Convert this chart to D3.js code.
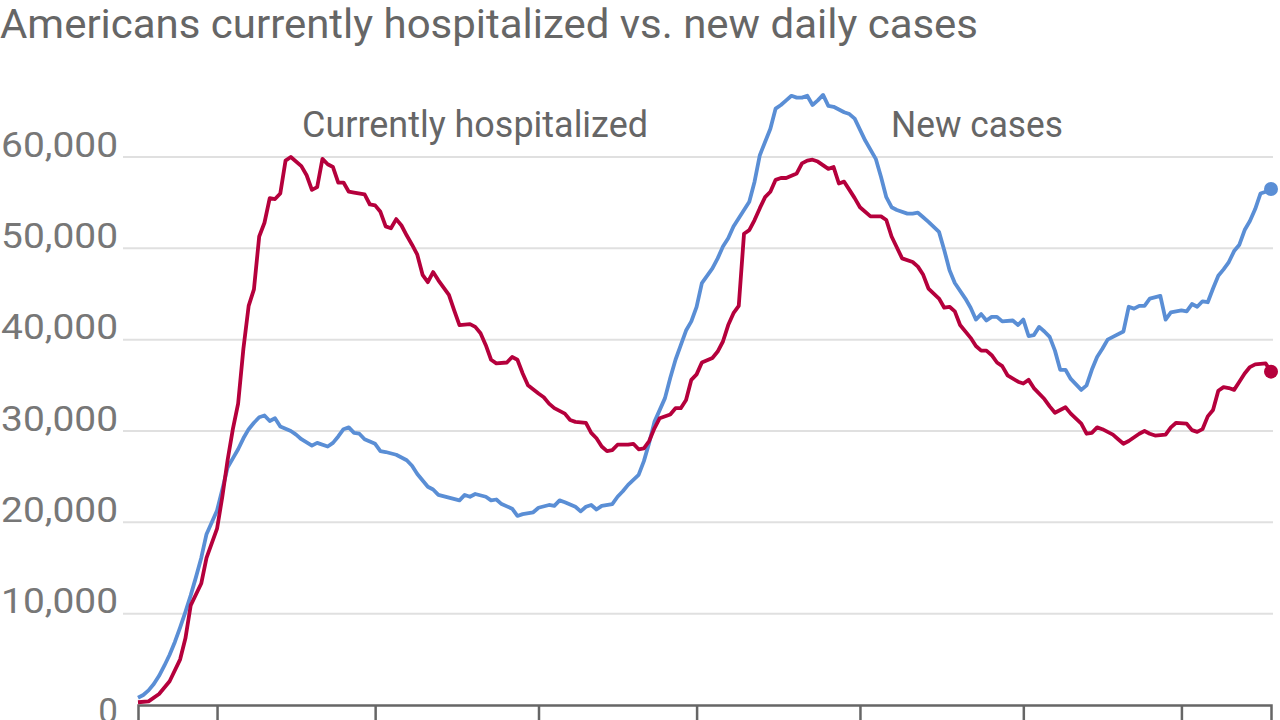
<!DOCTYPE html>
<html>
<head>
<meta charset="utf-8">
<script src="https://cdn.jsdelivr.net/npm/d3@7"></script>
<style>
  html, body { margin: 0; padding: 0; background: #fff; overflow: hidden; }
  svg { display: block; font-family: "Roboto", "Liberation Sans", sans-serif; }
</style>
</head>
<body>
<svg id="chart" width="1280" height="720"></svg>
<script>
const title = "Americans currently hospitalized vs. new daily cases";
const seriesNames = ["Currently hospitalized", "New cases"];
const yTicks = [0, 10000, 20000, 30000, 40000, 50000, 60000];
const monthTicks = ["2020-04-01","2020-05-01","2020-06-01","2020-07-01","2020-08-01","2020-09-01","2020-10-01"];

const hospitalized = [
["2020-03-17",300],["2020-03-19",400],["2020-03-21",1200],["2020-03-23",2600],["2020-03-25",5000],
["2020-03-26",7300],["2020-03-27",10900],["2020-03-29",13300],["2020-03-30",16100],["2020-04-01",19300],
["2020-04-02",22800],["2020-04-03",26800],["2020-04-04",30200],["2020-04-05",33000],["2020-04-06",39000],
["2020-04-07",43700],["2020-04-08",45500],["2020-04-09",51300],["2020-04-10",52800],["2020-04-11",55500],
["2020-04-12",55400],["2020-04-13",56000],["2020-04-14",59600],["2020-04-15",60000],["2020-04-17",59000],
["2020-04-18",58000],["2020-04-19",56400],["2020-04-20",56700],["2020-04-21",59800],["2020-04-22",59200],
["2020-04-23",58900],["2020-04-24",57200],["2020-04-25",57200],["2020-04-26",56200],["2020-04-27",56100],
["2020-04-29",55900],["2020-04-30",54800],["2020-05-01",54700],["2020-05-02",54000],["2020-05-03",52400],
["2020-05-04",52200],["2020-05-05",53200],["2020-05-06",52500],["2020-05-07",51400],["2020-05-08",50400],
["2020-05-09",49300],["2020-05-10",47100],["2020-05-11",46300],["2020-05-12",47400],["2020-05-13",46500],
["2020-05-15",44900],["2020-05-16",43200],["2020-05-17",41600],["2020-05-19",41700],["2020-05-20",41400],
["2020-05-21",40700],["2020-05-22",39400],["2020-05-23",37800],["2020-05-24",37400],["2020-05-26",37500],
["2020-05-27",38100],["2020-05-28",37800],["2020-05-29",36300],["2020-05-30",35000],["2020-06-01",34100],
["2020-06-02",33700],["2020-06-03",33000],["2020-06-04",32500],["2020-06-06",31900],["2020-06-07",31200],
["2020-06-08",31000],["2020-06-10",30900],["2020-06-11",29800],["2020-06-12",29200],["2020-06-13",28300],
["2020-06-14",27800],["2020-06-15",27900],["2020-06-16",28500],["2020-06-18",28500],["2020-06-19",28600],
["2020-06-20",28000],["2020-06-21",28100],["2020-06-22",28900],["2020-06-23",30300],["2020-06-24",31400],
["2020-06-26",31800],["2020-06-27",32500],["2020-06-28",32500],["2020-06-29",33400],["2020-06-30",35600],
["2020-07-01",36200],["2020-07-02",37500],["2020-07-04",38000],["2020-07-05",38700],["2020-07-06",39800],
["2020-07-07",41600],["2020-07-08",42900],["2020-07-09",43700],["2020-07-10",51600],["2020-07-11",52000],
["2020-07-12",53100],["2020-07-13",54400],["2020-07-14",55600],["2020-07-15",56200],["2020-07-16",57500],
["2020-07-17",57700],["2020-07-18",57700],["2020-07-20",58200],["2020-07-21",59300],["2020-07-22",59600],
["2020-07-23",59700],["2020-07-24",59500],["2020-07-26",58700],["2020-07-27",58900],["2020-07-28",57100],
["2020-07-29",57300],["2020-07-30",56400],["2020-07-31",55500],["2020-08-01",54500],["2020-08-03",53500],
["2020-08-05",53500],["2020-08-06",53100],["2020-08-07",51300],["2020-08-09",48900],["2020-08-11",48500],
["2020-08-12",48000],["2020-08-13",47100],["2020-08-14",45600],["2020-08-16",44500],["2020-08-17",43500],
["2020-08-18",43600],["2020-08-19",43100],["2020-08-20",41600],["2020-08-22",40200],["2020-08-23",39300],
["2020-08-24",38800],["2020-08-25",38800],["2020-08-26",38300],["2020-08-27",37500],["2020-08-28",37100],
["2020-08-29",36100],["2020-08-31",35400],["2020-09-01",35200],["2020-09-02",35600],["2020-09-03",34700],
["2020-09-05",33500],["2020-09-06",32700],["2020-09-07",32000],["2020-09-08",32300],["2020-09-09",32600],
["2020-09-10",31900],["2020-09-12",30800],["2020-09-13",29700],["2020-09-14",29800],["2020-09-15",30400],
["2020-09-16",30200],["2020-09-18",29600],["2020-09-19",29100],["2020-09-20",28600],["2020-09-21",28900],
["2020-09-23",29700],["2020-09-24",30000],["2020-09-25",29700],["2020-09-26",29500],["2020-09-28",29600],
["2020-09-29",30400],["2020-09-30",30900],["2020-10-02",30800],["2020-10-03",30100],["2020-10-04",29900],
["2020-10-05",30200],["2020-10-06",31600],["2020-10-07",32300],["2020-10-08",34400],["2020-10-09",34800],
["2020-10-10",34700],["2020-10-11",34500],["2020-10-12",35400],["2020-10-13",36300],["2020-10-14",37000],
["2020-10-15",37300],["2020-10-17",37400],["2020-10-18",36500]
];

const newCases = [
["2020-03-17",800],["2020-03-18",1100],["2020-03-19",1600],["2020-03-20",2300],["2020-03-21",3200],
["2020-03-22",4300],["2020-03-23",5500],["2020-03-24",6900],["2020-03-25",8500],["2020-03-26",10200],
["2020-03-27",12000],["2020-03-28",14000],["2020-03-29",16100],["2020-03-30",18700],
["2020-04-01",21300],["2020-04-02",23600],["2020-04-03",26000],["2020-04-04",27000],["2020-04-05",28000],
["2020-04-06",29200],["2020-04-07",30200],["2020-04-08",30900],["2020-04-09",31500],["2020-04-10",31700],
["2020-04-11",31100],["2020-04-12",31400],["2020-04-13",30500],["2020-04-15",30000],["2020-04-16",29600],
["2020-04-17",29100],["2020-04-19",28400],["2020-04-20",28700],["2020-04-22",28300],["2020-04-23",28700],
["2020-04-24",29400],["2020-04-25",30200],["2020-04-26",30400],["2020-04-27",29800],["2020-04-28",29700],
["2020-04-29",29100],["2020-05-01",28600],["2020-05-02",27800],["2020-05-03",27700],["2020-05-05",27400],
["2020-05-07",26800],["2020-05-08",26200],["2020-05-09",25300],["2020-05-11",23900],["2020-05-12",23600],
["2020-05-13",23000],["2020-05-15",22700],["2020-05-17",22400],["2020-05-18",23000],["2020-05-19",22800],
["2020-05-20",23100],["2020-05-22",22800],["2020-05-23",22400],["2020-05-24",22500],["2020-05-25",22000],
["2020-05-27",21500],["2020-05-28",20700],["2020-05-29",20900],["2020-05-31",21100],["2020-06-01",21600],
["2020-06-03",21900],["2020-06-04",21800],["2020-06-05",22400],["2020-06-06",22200],["2020-06-08",21700],
["2020-06-09",21200],["2020-06-10",21700],["2020-06-11",21900],["2020-06-12",21400],["2020-06-13",21800],
["2020-06-15",22000],["2020-06-16",22800],["2020-06-17",23400],["2020-06-18",24100],["2020-06-20",25200],
["2020-06-21",26700],["2020-06-22",28700],["2020-06-23",31000],["2020-06-25",33600],["2020-06-26",35800],
["2020-06-27",37800],["2020-06-28",39400],["2020-06-29",41000],["2020-06-30",42000],["2020-07-01",43600],
["2020-07-02",46200],["2020-07-04",47800],["2020-07-05",48900],["2020-07-06",50200],["2020-07-07",51100],
["2020-07-08",52400],["2020-07-09",53300],["2020-07-11",55100],["2020-07-12",57300],["2020-07-13",60200],
["2020-07-15",63100],["2020-07-16",65300],["2020-07-17",65700],["2020-07-18",66200],["2020-07-19",66700],
["2020-07-20",66500],["2020-07-21",66500],["2020-07-22",66700],["2020-07-23",65700],["2020-07-24",66200],
["2020-07-25",66800],["2020-07-26",65600],["2020-07-27",65500],["2020-07-29",64900],["2020-07-30",64700],
["2020-07-31",64200],["2020-08-01",63000],["2020-08-02",61800],["2020-08-04",59800],["2020-08-05",57800],
["2020-08-06",55600],["2020-08-07",54500],["2020-08-08",54200],["2020-08-10",53800],["2020-08-11",53800],
["2020-08-12",53900],["2020-08-13",53400],["2020-08-14",52900],["2020-08-16",51800],["2020-08-17",49800],
["2020-08-18",47600],["2020-08-19",46200],["2020-08-21",44500],["2020-08-22",43500],["2020-08-23",42200],
["2020-08-24",42800],["2020-08-25",42100],["2020-08-26",42500],["2020-08-27",42500],["2020-08-28",42000],
["2020-08-30",42100],["2020-08-31",41600],["2020-09-01",42200],["2020-09-02",40400],["2020-09-03",40500],
["2020-09-04",41400],["2020-09-05",40900],["2020-09-06",40300],["2020-09-07",38800],["2020-09-08",36700],
["2020-09-09",36700],["2020-09-10",35700],["2020-09-11",35100],["2020-09-12",34500],["2020-09-13",35000],
["2020-09-14",36700],["2020-09-15",38100],["2020-09-16",39000],["2020-09-17",40000],["2020-09-18",40300],
["2020-09-20",40900],["2020-09-21",43600],["2020-09-22",43400],["2020-09-23",43700],["2020-09-24",43700],
["2020-09-25",44500],["2020-09-27",44800],["2020-09-28",42200],["2020-09-29",43000],["2020-09-30",43100],
["2020-10-01",43200],["2020-10-02",43100],["2020-10-03",43900],["2020-10-04",43600],["2020-10-05",44200],
["2020-10-06",44100],["2020-10-07",45600],["2020-10-08",47000],["2020-10-09",47700],["2020-10-10",48500],
["2020-10-11",49700],["2020-10-12",50400],["2020-10-13",52000],["2020-10-14",53000],["2020-10-15",54300],
["2020-10-16",56000],["2020-10-17",56200],["2020-10-18",56500]
];

const parse = d3.timeParse("%Y-%m-%d");
const hosp = hospitalized.map(([d, v]) => ({date: parse(d), value: v}));
const cases = newCases.map(([d, v]) => ({date: parse(d), value: v}));

const svg = d3.select("#chart");
const x = d3.scaleTime()
  .domain([parse("2020-03-17"), parse("2020-10-18")])
  .range([138, 1271]);
const y = d3.scaleLinear().domain([0, 60000]).range([705, 157]);

const textColor = "#666";
const gridColor = "#e0e0e0";
const redColor = "#b5003c";
const blueColor = "#5a8ed5";
const fontFam = "Roboto, 'Liberation Sans', sans-serif";

// Title
svg.append("text")
  .attr("x", 0).attr("y", 38)
  .attr("fill", textColor)
  .attr("font-size", 41)
  .attr("textLength", 978)
  .attr("lengthAdjust", "spacingAndGlyphs")
  .text(title);

// Gridlines
svg.append("g").selectAll("line")
  .data(yTicks.filter(t => t > 0))
  .join("line")
  .attr("x1", 123).attr("x2", 1273)
  .attr("y1", d => y(d)).attr("y2", d => y(d))
  .attr("stroke", gridColor).attr("stroke-width", 2);

// Y labels via axis
const yAxis = svg.append("g")
  .attr("transform", "translate(118,0)")
  .call(d3.axisLeft(y).tickValues(yTicks).tickFormat(d3.format(",")).tickSize(0).tickPadding(0));
yAxis.select(".domain").remove();
yAxis.selectAll("text")
  .attr("fill", "#777")
  .attr("font-size", 35)
  .attr("x", 0)
  .attr("dy", d => d === 0 ? "0.5em" : "-0.02em")
  .style("font-family", fontFam)
  .each(function(d) {
    if (d !== 0) {
      d3.select(this).attr("textLength", 117).attr("lengthAdjust", "spacingAndGlyphs");
    }
  });

// X axis
const xAxis = svg.append("g")
  .attr("transform", "translate(0,705)")
  .call(d3.axisBottom(x).tickValues(monthTicks.map(parse)).tickSize(16).tickFormat(""));
xAxis.select(".domain").attr("stroke", "#666").attr("stroke-width", 2.5);
xAxis.selectAll(".tick line").attr("stroke", "#666").attr("stroke-width", 2.5);

// Lines
const line = d3.line().x(d => x(d.date)).y(d => y(d.value));
svg.append("path").datum(cases)
  .attr("d", line).attr("fill", "none")
  .attr("stroke", blueColor).attr("stroke-width", 3.8)
  .attr("stroke-linejoin", "round");
svg.append("path").datum(hosp)
  .attr("d", line).attr("fill", "none")
  .attr("stroke", redColor).attr("stroke-width", 3.8)
  .attr("stroke-linejoin", "round");

// End dots
svg.append("circle")
  .attr("cx", x(cases[cases.length-1].date)).attr("cy", y(cases[cases.length-1].value))
  .attr("r", 7).attr("fill", blueColor);
svg.append("circle")
  .attr("cx", x(hosp[hosp.length-1].date)).attr("cy", y(hosp[hosp.length-1].value))
  .attr("r", 7).attr("fill", redColor);

// Series labels
svg.append("text")
  .attr("x", 475).attr("y", 137)
  .attr("text-anchor", "middle")
  .attr("fill", textColor).attr("font-size", 36)
  .attr("textLength", 346).attr("lengthAdjust", "spacingAndGlyphs")
  .text(seriesNames[0]);
svg.append("text")
  .attr("x", 977).attr("y", 137)
  .attr("text-anchor", "middle")
  .attr("fill", textColor).attr("font-size", 36)
  .attr("textLength", 172).attr("lengthAdjust", "spacingAndGlyphs")
  .text(seriesNames[1]);
</script>
</body>
</html>
